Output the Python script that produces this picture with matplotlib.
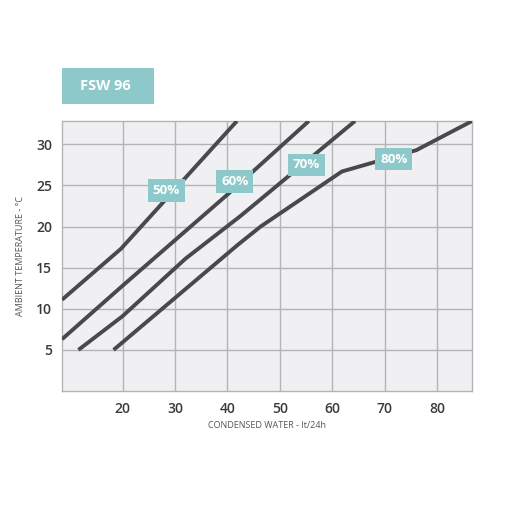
import numpy as np
import matplotlib.pyplot as plt
from matplotlib.patches import Rectangle

plt.rcParams['font.family'] = ['Open Sans', 'DejaVu Sans']

# curves: condensed water (lt/24h) vs ambient temperature (C)
x50 = [8.47, 19.7, 41.8]
y50 = [11.1, 17.3, 32.84]
x60 = [8.47, 20.0, 40.0, 55.5]
y60 = [6.3, 12.8, 23.9, 32.84]
x70 = [11.6, 20.0, 32.0, 42.5, 64.3]
y70 = [5.0, 9.1, 16.1, 21.3, 32.84]
x80 = [18.3, 42.0, 46.3, 61.8, 76.0, 86.6]
y80 = [5.0, 17.8, 20.0, 26.7, 29.3, 32.84]

labels = ['50%', '60%', '70%', '80%']
label_x = [28.3, 41.4, 55.1, 71.7]
label_y = [24.4, 25.5, 27.5, 28.2]

xticks = [20, 30, 40, 50, 60, 70, 80]
yticks = [5, 10, 15, 20, 25, 30]

line_col = '#48484f'
teal = '#8dc8ca'

fig = plt.figure(figsize=(5.05, 5.13), dpi=100)
ax = fig.add_axes([0.1228, 0.2378, 0.812, 0.5263])
ax.set_facecolor('#f0f0f2')

for xs, ys in [(x50, y50), (x60, y60), (x70, y70), (x80, y80)]:
    ax.plot(xs, ys, color=line_col, linewidth=2.8, solid_capstyle='butt',
            solid_joinstyle='round', zorder=3)

for t, lx, ly in zip(labels, label_x, label_y):
    ax.text(lx, ly, t, ha='center', va='center', color='white', fontsize=9.6,
            fontweight='bold', zorder=5,
            bbox=dict(boxstyle='square,pad=0.36', facecolor=teal, edgecolor='none'))

ax.set_xlim(8.47, 86.6)
ax.set_ylim(0, 32.84)
ax.set_xticks(xticks)
ax.set_yticks(yticks)
ax.grid(True, color='#b4b4b8', linewidth=1)
ax.set_axisbelow(True)
for s in ax.spines.values():
    s.set_color('#b4b4b8')
    s.set_linewidth(1)
ax.tick_params(length=0, labelsize=10, labelcolor='#3a3a3a')
for lab in ax.get_xticklabels() + ax.get_yticklabels():
    lab.set_fontweight('semibold')
ax.tick_params(axis='y', pad=7)
ax.tick_params(axis='x', pad=8)

ax.set_xlabel('CONDENSED WATER - lt/24h', fontsize=6.5, color='#555555')
ax.set_ylabel('AMBIENT TEMPERATURE - °C', fontsize=6.5, color='#555555')
ax.xaxis.set_label_coords(0.5, -0.111)
ax.yaxis.set_label_coords(-0.09, 0.5)

fig.patches.append(Rectangle((0.1228, 0.797), 0.182, 0.0702, transform=fig.transFigure,
                             facecolor=teal, edgecolor='none'))
fig.text(0.158, 0.832, 'FSW 96', color='white', fontsize=10.5, fontweight='bold',
         ha='left', va='center')

plt.savefig('out.png', dpi=100)
plt.close()
